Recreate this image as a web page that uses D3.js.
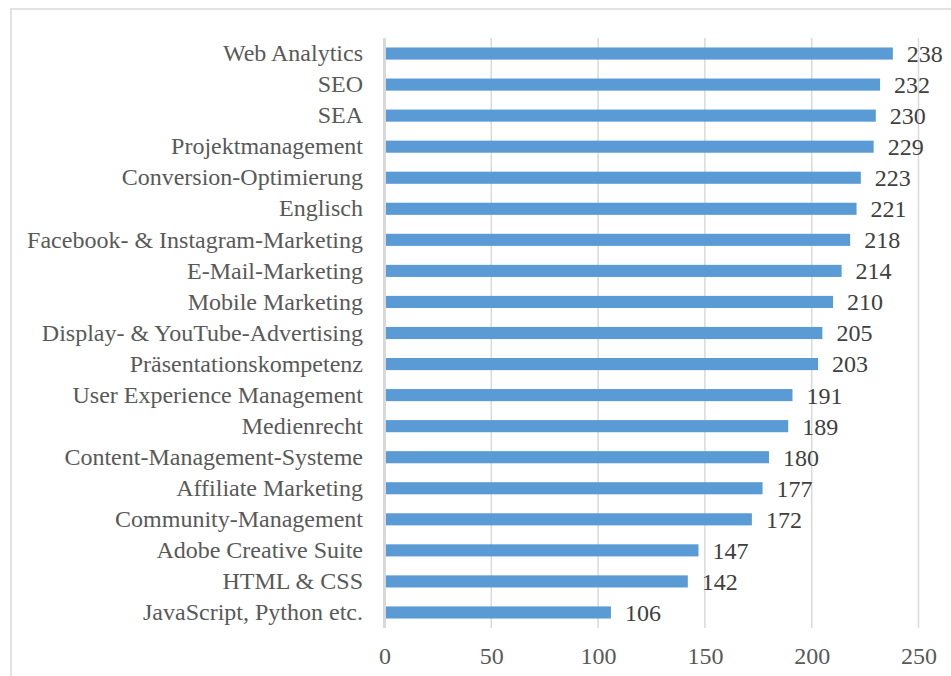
<!DOCTYPE html>
<html><head><meta charset="utf-8">
<script src="https://cdn.jsdelivr.net/npm/d3@7/dist/d3.min.js"></script>
<style>body{margin:0;background:#fff;overflow:hidden}</style>
</head><body><svg id="c" width="951" height="676"></svg>
<script>
const categories = ["Web Analytics","SEO","SEA","Projektmanagement","Conversion-Optimierung","Englisch","Facebook- & Instagram-Marketing","E-Mail-Marketing","Mobile Marketing","Display- & YouTube-Advertising","Präsentationskompetenz","User Experience Management","Medienrecht","Content-Management-Systeme","Affiliate Marketing","Community-Management","Adobe Creative Suite","HTML & CSS","JavaScript, Python etc."];
const values = [238,232,230,229,223,221,218,214,210,205,203,191,189,180,177,172,147,142,106];
const ticks = [0,50,100,150,200,250];

const svg = d3.select("#c");
const font = "'Liberation Serif','Times New Roman',serif";
svg.append("rect").attr("x",11).attr("y",9).attr("width",1000).attr("height",800)
  .attr("fill","none").attr("stroke","#d9d9d9").attr("stroke-width",1.5);

const x = d3.scaleLinear().domain([0,250]).range([384.5,918.5]);
const y = d3.scaleBand().domain(categories).range([38,628]).paddingInner(0.61).paddingOuter(0.305);

const grid = svg.append("g");
grid.selectAll("line").data(ticks).join("line")
  .attr("x1",d=>x(d)).attr("x2",d=>x(d)).attr("y1",38).attr("y2",628)
  .attr("stroke","#d9d9d9").attr("stroke-width",d=>d===0?3:1.5);

svg.append("g").selectAll("rect").data(values).join("rect")
  .attr("x",x(0)+1.5).attr("y",(d,i)=>y(categories[i]))
  .attr("width",d=>x(d)-x(0)-1.5).attr("height",y.bandwidth())
  .attr("fill","#5b9bd5");

svg.append("g").selectAll("text").data(values).join("text")
  .attr("x",d=>x(d)+14).attr("y",(d,i)=>y(categories[i])+y.bandwidth()/2)
  .attr("dy","0.35em").attr("font-family",font).attr("font-size",24).attr("fill","#404040")
  .text(d=>d);

const yAxis = d3.axisLeft(y).tickSize(0).tickPadding(21);
const gy = svg.append("g").attr("transform",`translate(${x(0)-0.5},0)`).call(yAxis);
gy.select(".domain").remove();
gy.selectAll("text").attr("font-family",font).attr("font-size",24).attr("fill","#595959");

const xAxis = d3.axisBottom(x).tickValues(ticks).tickSize(0).tickPadding(19);
const gx = svg.append("g").attr("transform","translate(0,628)").call(xAxis);
gx.select(".domain").remove();
gx.selectAll("text").attr("font-family",font).attr("font-size",24).attr("fill","#595959");
</script></body></html>
